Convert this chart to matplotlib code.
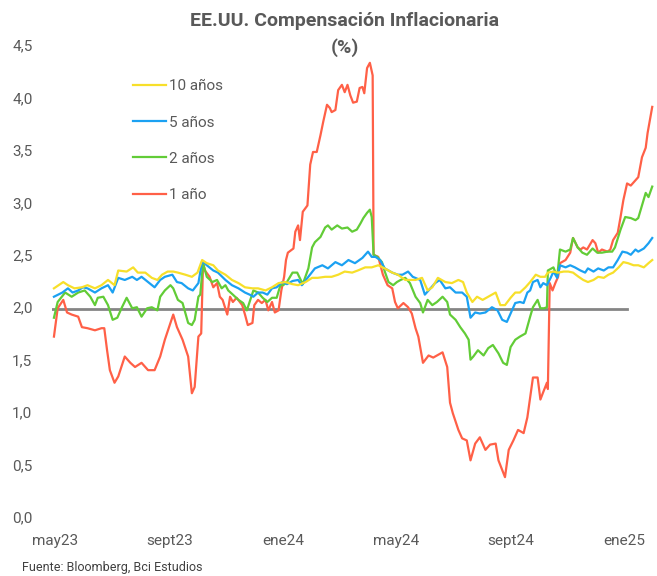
import pandas as pd
import matplotlib.pyplot as plt
from matplotlib.ticker import FuncFormatter

# Datos (dias desde 2023-05-01, valor en %)
inicio = pd.Timestamp('2023-05-01')

dias_10a = [-1, 9, 14, 21, 29, 35, 43, 50, 57, 64, 68, 77, 84, 89, 97, 104, 110, 115, 121, 127,
            132, 140, 147, 153, 158, 163, 170, 175, 183, 190, 197, 204, 212, 218, 226, 233, 240,
            247, 255, 261, 269, 276, 282, 290, 297, 304, 311, 319, 325, 333, 340, 347, 354, 362,
            368, 376, 387, 394, 400, 405, 411, 419, 426, 433, 438, 442, 448, 453, 459, 465, 473,
            478, 483, 489, 494, 499, 505, 510, 516, 521, 526, 529, 535, 540, 546, 551, 556, 562,
            567, 572, 578, 583, 589, 594, 599, 605, 610, 615, 621, 626, 632, 637, 641]
tasa_10a = [2.18, 2.24, 2.21, 2.18, 2.19, 2.21, 2.18, 2.21, 2.26, 2.21, 2.35, 2.34, 2.38, 2.33,
            2.33, 2.28, 2.26, 2.31, 2.34, 2.34, 2.33, 2.31, 2.29, 2.33, 2.45, 2.42, 2.40, 2.35,
            2.31, 2.26, 2.23, 2.19, 2.18, 2.18, 2.16, 2.19, 2.23, 2.24, 2.22, 2.21, 2.24, 2.28,
            2.28, 2.29, 2.29, 2.31, 2.34, 2.33, 2.35, 2.38, 2.38, 2.40, 2.37, 2.33, 2.31, 2.26,
            2.26, 2.28, 2.16, 2.19, 2.28, 2.24, 2.23, 2.26, 2.24, 2.14, 2.05, 2.10, 2.07, 2.10,
            2.14, 2.02, 2.02, 2.09, 2.14, 2.14, 2.19, 2.24, 2.31, 2.29, 2.29, 2.33, 2.34, 2.33,
            2.34, 2.34, 2.33, 2.29, 2.26, 2.24, 2.26, 2.29, 2.28, 2.31, 2.33, 2.38, 2.43, 2.42,
            2.40, 2.40, 2.38, 2.42, 2.45]

dias_5a = [-1, 8, 14, 19, 25, 30, 35, 43, 50, 57, 62, 68, 75, 83, 88, 93, 100, 107, 113, 118,
           126, 131, 136, 143, 148, 154, 158, 163, 170, 175, 183, 190, 197, 204, 209, 213, 218,
           223, 228, 233, 238, 244, 249, 255, 261, 265, 272, 279, 287, 293, 301, 308, 315, 322,
           330, 336, 340, 344, 349, 354, 362, 368, 373, 379, 384, 392, 397, 403, 408, 413, 419,
           424, 430, 437, 442, 446, 451, 456, 462, 469, 475, 480, 485, 489, 494, 499, 503, 507,
           510, 513, 518, 521, 524, 528, 532, 535, 539, 542, 548, 553, 558, 564, 569, 572, 578,
           583, 589, 594, 599, 604, 609, 614, 618, 623, 626, 632, 637, 641]
tasa_5a = [2.10, 2.14, 2.18, 2.14, 2.16, 2.19, 2.18, 2.14, 2.18, 2.21, 2.14, 2.28, 2.26, 2.29,
           2.26, 2.29, 2.24, 2.19, 2.26, 2.29, 2.31, 2.24, 2.23, 2.18, 2.16, 2.23, 2.44, 2.40,
           2.35, 2.33, 2.26, 2.21, 2.18, 2.14, 2.12, 2.10, 2.14, 2.14, 2.12, 2.18, 2.19, 2.24,
           2.22, 2.25, 2.26, 2.21, 2.29, 2.37, 2.40, 2.37, 2.43, 2.40, 2.45, 2.42, 2.47, 2.53,
           2.48, 2.48, 2.45, 2.37, 2.33, 2.31, 2.31, 2.34, 2.29, 2.26, 2.12, 2.18, 2.23, 2.26,
           2.18, 2.19, 2.14, 2.14, 2.10, 1.90, 1.95, 1.94, 1.95, 2.00, 1.97, 1.88, 1.86, 1.94,
           2.04, 2.05, 2.04, 2.14, 2.16, 2.24, 2.26, 2.19, 2.23, 2.21, 2.28, 2.34, 2.28, 2.40,
           2.38, 2.40, 2.38, 2.35, 2.33, 2.37, 2.34, 2.37, 2.35, 2.38, 2.38, 2.45, 2.53, 2.52,
           2.50, 2.55, 2.53, 2.56, 2.61, 2.66]

dias_2a = [-1, 3, 11, 18, 25, 32, 38, 43, 46, 52, 57, 62, 67, 72, 77, 83, 88, 93, 99, 104, 110,
           113, 118, 124, 127, 132, 137, 143, 147, 150, 154, 156, 159, 163, 169, 174, 179, 183,
           186, 191, 197, 202, 206, 209, 213, 218, 223, 228, 233, 238, 242, 245, 249, 255, 260,
           266, 272, 276, 279, 285, 290, 293, 297, 303, 308, 314, 319, 324, 328, 331, 335, 338,
           340, 342, 346, 351, 354, 358, 363, 367, 371, 376, 381, 387, 392, 395, 400, 405, 410,
           416, 421, 424, 430, 435, 440, 444, 446, 449, 454, 460, 465, 470, 476, 481, 485, 489,
           494, 499, 505, 510, 513, 518, 521, 525, 528, 529, 535, 539, 542, 548, 553, 556, 561,
           566, 571, 577, 582, 587, 593, 598, 601, 607, 612, 618, 623, 626, 630, 634, 637, 641]
tasa_2a = [1.90, 2.05, 2.14, 2.10, 2.14, 2.16, 2.10, 2.02, 2.09, 2.10, 2.02, 1.88, 1.90, 2.00,
           2.09, 1.99, 2.00, 1.91, 1.99, 2.00, 1.97, 2.10, 2.16, 2.21, 2.18, 2.07, 2.04, 1.85,
           1.83, 1.88, 2.10, 2.12, 2.42, 2.29, 2.24, 2.26, 2.18, 2.21, 2.16, 2.12, 2.07, 2.04,
           1.97, 2.05, 2.16, 2.14, 2.09, 2.05, 2.09, 2.09, 2.21, 2.21, 2.24, 2.33, 2.33, 2.22,
           2.37, 2.57, 2.62, 2.67, 2.76, 2.78, 2.74, 2.78, 2.75, 2.76, 2.72, 2.74, 2.80, 2.85,
           2.90, 2.93, 2.86, 2.50, 2.48, 2.43, 2.34, 2.24, 2.21, 2.24, 2.26, 2.28, 2.23, 2.10,
           2.04, 1.95, 2.07, 2.02, 2.05, 2.10, 2.05, 1.93, 1.88, 1.81, 1.75, 1.69, 1.50, 1.53,
           1.59, 1.54, 1.61, 1.64, 1.56, 1.47, 1.45, 1.62, 1.69, 1.72, 1.75, 1.91, 2.00, 2.07,
           1.99, 1.99, 2.00, 2.35, 2.38, 2.29, 2.55, 2.53, 2.55, 2.66, 2.57, 2.52, 2.50, 2.56,
           2.52, 2.52, 2.53, 2.53, 2.57, 2.74, 2.86, 2.85, 2.83, 2.85, 2.97, 3.09, 3.05, 3.15]

dias_1a = [-1, 3, 9, 13, 18, 25, 29, 35, 43, 50, 53, 56, 59, 64, 68, 75, 81, 86, 93, 100, 107,
           113, 118, 124, 127, 131, 134, 137, 143, 147, 150, 154, 157, 159, 161, 166, 170, 174,
           177, 180, 185, 188, 191, 195, 201, 204, 207, 212, 214, 218, 222, 226, 229, 233, 236,
           240, 243, 246, 248, 250, 256, 258, 261, 263, 266, 271, 274, 277, 281, 285, 288, 292,
           295, 297, 301, 304, 308, 311, 314, 317, 320, 324, 327, 330, 332, 335, 338, 341, 342,
           347, 352, 357, 362, 365, 368, 374, 379, 383, 387, 390, 395, 401, 406, 410, 416, 421,
           424, 427, 433, 437, 442, 446, 451, 456, 462, 467, 473, 476, 480, 483, 487, 492, 497,
           503, 507, 510, 513, 518, 521, 524, 528, 529, 531, 534, 537, 540, 542, 548, 553, 556,
           561, 564, 567, 571, 577, 580, 583, 587, 593, 596, 599, 604, 607, 610, 614, 618, 623,
           626, 630, 634, 636, 638, 641]
tasa_1a = [1.72, 1.99, 2.07, 1.95, 1.93, 1.91, 1.81, 1.80, 1.78, 1.80, 1.80, 1.59, 1.40, 1.28,
           1.34, 1.53, 1.47, 1.43, 1.47, 1.40, 1.40, 1.53, 1.69, 1.85, 1.93, 1.81, 1.75, 1.69,
           1.53, 1.18, 1.24, 1.72, 1.75, 2.42, 2.35, 2.29, 2.19, 2.23, 2.10, 2.07, 1.93, 2.10,
           2.05, 2.09, 2.02, 1.93, 1.83, 1.85, 2.02, 2.07, 2.04, 2.07, 1.97, 2.05, 1.95, 1.97,
           2.16, 2.29, 2.45, 2.52, 2.56, 2.72, 2.78, 2.64, 2.91, 2.97, 3.36, 3.48, 3.48, 3.64,
           3.77, 3.93, 3.90, 3.86, 3.88, 4.07, 4.12, 4.05, 4.12, 4.02, 3.95, 3.96, 4.09, 4.10,
           4.04, 4.28, 4.33, 4.21, 2.50, 2.48, 2.31, 2.21, 2.18, 2.05, 1.99, 2.04, 2.00, 1.94,
           1.80, 1.72, 1.47, 1.54, 1.52, 1.54, 1.57, 1.43, 1.09, 0.99, 0.83, 0.75, 0.73, 0.54,
           0.70, 0.76, 0.64, 0.69, 0.70, 0.54, 0.45, 0.38, 0.64, 0.73, 0.83, 0.80, 0.95, 1.14,
           1.33, 1.33, 1.12, 1.19, 1.28, 1.22, 2.23, 2.16, 2.23, 2.29, 2.42, 2.45, 2.52, 2.66,
           2.57, 2.55, 2.57, 2.55, 2.64, 2.61, 2.52, 2.55, 2.53, 2.55, 2.64, 2.71, 2.86, 3.02,
           3.18, 3.16, 3.21, 3.24, 3.43, 3.52, 3.66, 3.76, 3.91]

dias_ref = [-3, 614]
nivel_ref = [1.98, 1.98]

series = [
    ('10 años', dias_10a, tasa_10a, '#F7DF2A'),
    ('5 años', dias_5a, tasa_5a, '#1BA1F2'),
    ('2 años', dias_2a, tasa_2a, '#62CC37'),
    ('1 año', dias_1a, tasa_1a, '#FF6047'),
]

def a_fecha(dias):
    return inicio + pd.to_timedelta(dias, unit='D')

plt.rcParams['font.family'] = ['Roboto', 'DejaVu Sans']
gris = '#595959'

fig = plt.figure(figsize=(6.57, 5.76), dpi=100)
ax = fig.add_axes([0.079, 0.1024, 0.918, 0.8195])

ax.plot(a_fecha(dias_ref), nivel_ref, color='#858585', linewidth=2.0, zorder=1)
for nombre, dias, tasa, color in series[::-1]:
    ax.plot(a_fecha(dias), tasa, color=color, linewidth=1.6, label=nombre, zorder=2)

ax.set_ylim(0, 4.5)
ax.set_yticks([i * 0.5 for i in range(10)])
ax.yaxis.set_major_formatter(FuncFormatter(lambda v, p: f'{v:.1f}'.replace('.', ',')))
ax.set_xlim(a_fecha(-3.2), a_fecha(644))
ticks = pd.to_datetime(['2023-05-01', '2023-09-01', '2024-01-01',
                        '2024-05-01', '2024-09-01', '2025-01-01'])
ax.set_xticks(ticks)
ax.set_xticklabels(['may23', 'sept23', 'ene24', 'may24', 'sept24', 'ene25'])

for s in ax.spines.values():
    s.set_visible(False)
ax.tick_params(axis='both', length=0, labelsize=11, colors=gris)
ax.tick_params(axis='y', pad=14)
ax.tick_params(axis='x', pad=12)

handles, labels = ax.get_legend_handles_labels()
ax.legend(handles[::-1], labels[::-1], loc='upper left', bbox_to_anchor=(0.134, 0.927),
          frameon=False, borderpad=0, borderaxespad=0, handlelength=2.2,
          handletextpad=0.15, labelspacing=1.45, fontsize=11, labelcolor=gris)

fig.text(0.525, 0.963, 'EE.UU. Compensación Inflacionaria', ha='center', va='center',
         fontsize=14, fontweight='bold', color=gris)
fig.text(0.525, 0.918, '(%)', ha='center', va='center',
         fontsize=14, fontweight='bold', color=gris)
fig.text(0.033, 0.015, 'Fuente: Bloomberg, Bci Estudios', ha='left', va='center',
         fontsize=9, color='#404040')

fig.savefig('out.png', dpi=100)
